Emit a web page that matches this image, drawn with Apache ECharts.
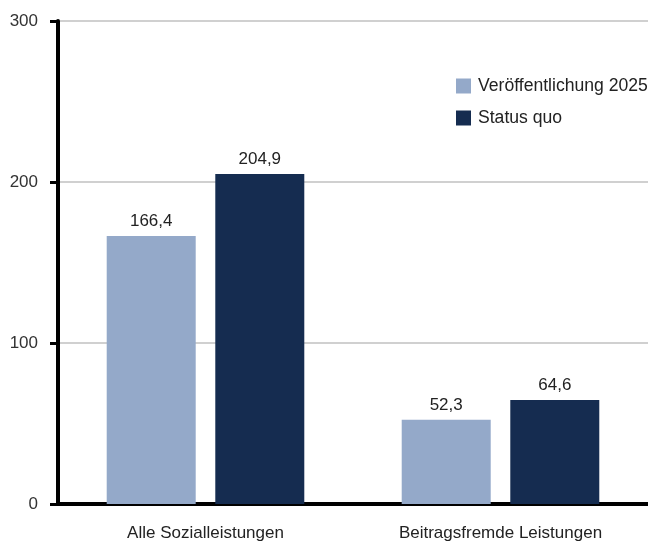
<!DOCTYPE html>
<html><head><meta charset="utf-8">
<script src="https://cdn.jsdelivr.net/npm/echarts@6/dist/echarts.min.js"></script>
<style>html,body{margin:0;padding:0;background:#fff}#c{width:648px;height:542px}</style>
</head><body><div id="c"></div>
<script>
const categories = ["Alle Sozialleistungen", "Beitragsfremde Leistungen"];
const seriesNames = ["Veröffentlichung 2025", "Status quo"];
const values2025 = [166.4, 52.3];
const valuesStatusQuo = [204.9, 64.6];
const colors = ["#94a9c9", "#152c50"];
const FONT = "'Liberation Sans Narrow', 'Arial Narrow', 'Liberation Sans', sans-serif";

const fmt = p => String(p.value).replace('.', ',');
const chart = echarts.init(document.getElementById('c'));
chart.setOption({
  animation: false,
  textStyle: { fontFamily: FONT },
  grid: { left: 58, right: 0, top: 21, bottom: 38, containLabel: false },
  legend: {
    orient: 'vertical', left: 451, top: 72, itemWidth: 15, itemHeight: 15, itemGap: 14,
    icon: 'rect',
    textStyle: { fontFamily: FONT, fontSize: 17.6, color: '#222', padding: [0,0,0,2] },
    data: seriesNames
  },
  xAxis: {
    type: 'category', data: categories,
    axisLine: { lineStyle: { color: '#000', width: 4 } },
    axisTick: { show: false },
    axisLabel: { fontFamily: FONT, fontSize: 17, color: '#222', margin: 21 }
  },
  yAxis: {
    type: 'value', min: 0, max: 300, interval: 100,
    axisLine: { show: true, lineStyle: { color: '#000', width: 4 } },
    axisTick: { show: true, length: 8, lineStyle: { color: '#000', width: 3 } },
    splitLine: { lineStyle: { color: '#d0d0d0', width: 2 } },
    axisLabel: { fontFamily: FONT, fontSize: 17, color: '#333', margin: 20 }
  },
  series: [
    { name: seriesNames[0], type: 'bar', data: values2025, barWidth: 89, barGap: '22%',
      itemStyle: { color: colors[0] },
      label: { show: true, position: 'top', distance: 6, formatter: fmt, fontFamily: FONT, fontSize: 17, color: '#222' } },
    { name: seriesNames[1], type: 'bar', data: valuesStatusQuo, barWidth: 89,
      itemStyle: { color: colors[1] },
      label: { show: true, position: 'top', distance: 6, formatter: fmt, fontFamily: FONT, fontSize: 17, color: '#222' } }
  ]
});
</script></body></html>
